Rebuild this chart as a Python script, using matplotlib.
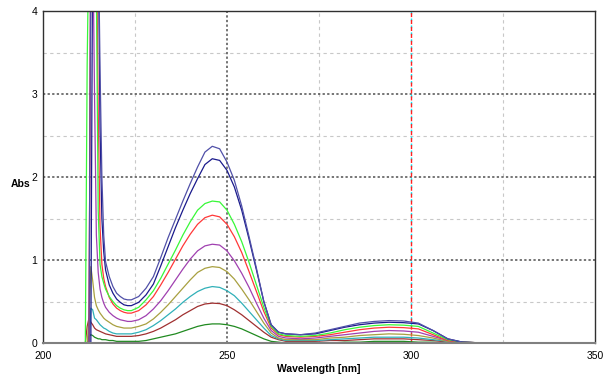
import matplotlib
matplotlib.use("Agg")
import matplotlib.pyplot as plt

plt.rcParams['font.family'] = ['Liberation Sans', 'DejaVu Sans']

# wavelength grid (nm)
wl = [211.5, 212, 212.5, 213, 213.5, 214, 214.5, 215, 215.5, 216, 216.5, 217,
      218, 219, 220, 221, 222, 223, 224,
      226, 228, 230, 232, 234, 236, 238, 240, 242, 244, 246, 248, 250, 252, 254,
      256, 258, 260, 262, 264, 266,
      270, 274, 278, 282, 286, 290, 294, 298, 302, 306, 310, 314, 320, 350]

blue1 = [0, 0, 0, 5, 5, 5, 5, 5, 3.3, 2.0, 1.3, 0.98,
         0.8, 0.68, 0.6, 0.56, 0.53, 0.52, 0.52,
         0.56, 0.66, 0.8, 1.03, 1.27, 1.49, 1.71, 1.92, 2.12, 2.3, 2.37, 2.34, 2.18, 1.96, 1.65,
         1.28, 0.9, 0.5, 0.22, 0.13, 0.11,
         0.10, 0.12, 0.16, 0.20, 0.24, 0.26, 0.27, 0.265, 0.24, 0.15, 0.05, 0.01, 0, 0]
blue2 = [0, 0, 0, 0, 5, 5, 5, 5, 2.6, 1.5, 1.1, 0.88,
         0.7, 0.6, 0.53, 0.49, 0.46, 0.45, 0.45,
         0.49, 0.58, 0.71, 0.93, 1.16, 1.39, 1.6, 1.8, 1.98, 2.15, 2.22, 2.2, 2.08, 1.88, 1.6,
         1.25, 0.88, 0.5, 0.22, 0.13, 0.11,
         0.10, 0.11, 0.15, 0.19, 0.22, 0.24, 0.25, 0.245, 0.23, 0.15, 0.05, 0.01, 0, 0]
lime = [0, 3.35, 5, 5, 5, 5, 4.3, 1.6, 0.95, 0.8, 0.72, 0.65,
        0.56, 0.5, 0.45, 0.42, 0.4, 0.39, 0.39,
        0.43, 0.52, 0.63, 0.78, 0.95, 1.12, 1.3, 1.46, 1.6, 1.68, 1.71, 1.7, 1.6, 1.43, 1.22,
        0.97, 0.7, 0.43, 0.2, 0.11, 0.09,
        0.08, 0.09, 0.12, 0.16, 0.19, 0.21, 0.22, 0.215, 0.2, 0.12, 0.04, 0.01, 0, 0]
red = [0, 0, 0, 5, 5, 5, 5, 2.8, 1.4, 0.95, 0.78, 0.68,
       0.55, 0.47, 0.42, 0.39, 0.37, 0.36, 0.36,
       0.39, 0.46, 0.56, 0.7, 0.85, 1.01, 1.17, 1.31, 1.43, 1.51, 1.54, 1.52, 1.43, 1.28, 1.09,
       0.86, 0.62, 0.38, 0.18, 0.10, 0.08,
       0.07, 0.08, 0.10, 0.13, 0.16, 0.18, 0.19, 0.185, 0.17, 0.10, 0.03, 0.01, 0, 0]
purple = [0, 0, 0, 5, 5, 3.0, 1.3, 0.85, 0.65, 0.55, 0.48, 0.43,
          0.37, 0.33, 0.3, 0.28, 0.27, 0.26, 0.26,
          0.28, 0.33, 0.41, 0.51, 0.63, 0.76, 0.89, 1.01, 1.11, 1.17, 1.19, 1.18, 1.11, 0.99, 0.84,
          0.67, 0.48, 0.3, 0.15, 0.08, 0.06,
          0.05, 0.06, 0.08, 0.10, 0.12, 0.14, 0.15, 0.145, 0.13, 0.08, 0.03, 0.01, 0, 0]
olive = [0, 0, 0.3, 0.92, 0.75, 0.55, 0.45, 0.4, 0.36, 0.33, 0.3, 0.28,
         0.25, 0.22, 0.2, 0.19, 0.18, 0.18, 0.18,
         0.2, 0.23, 0.29, 0.37, 0.46, 0.56, 0.66, 0.76, 0.85, 0.9, 0.92, 0.91, 0.86, 0.77, 0.65,
         0.52, 0.38, 0.24, 0.12, 0.06, 0.04,
         0.04, 0.04, 0.06, 0.07, 0.09, 0.10, 0.11, 0.105, 0.09, 0.06, 0.02, 0.01, 0, 0]
teal = [0, 0, 0, 0.42, 0.4, 0.3, 0.28, 0.25, 0.22, 0.2, 0.18, 0.17,
        0.14, 0.12, 0.11, 0.11, 0.11, 0.11, 0.11,
        0.13, 0.16, 0.21, 0.27, 0.34, 0.41, 0.49, 0.56, 0.62, 0.66, 0.68, 0.67, 0.63, 0.57, 0.48,
        0.38, 0.28, 0.18, 0.09, 0.05, 0.03,
        0.03, 0.03, 0.04, 0.05, 0.06, 0.07, 0.07, 0.07, 0.06, 0.04, 0.02, 0, 0, 0]
darkred = [0, 0.2, 0.3, 0.25, 0.22, 0.18, 0.16, 0.15, 0.14, 0.13, 0.12, 0.11,
           0.1, 0.09, 0.08, 0.08, 0.08, 0.08, 0.08,
           0.09, 0.11, 0.14, 0.18, 0.23, 0.28, 0.34, 0.39, 0.44, 0.47, 0.48, 0.475, 0.45, 0.4, 0.34,
           0.27, 0.2, 0.13, 0.07, 0.04, 0.02,
           0.02, 0.02, 0.03, 0.03, 0.04, 0.05, 0.05, 0.05, 0.04, 0.03, 0.01, 0, 0, 0]
green = [0, 0, 0.08, 0.1, 0.09, 0.07, 0.06, 0.05, 0.05, 0.04, 0.04, 0.04,
         0.03, 0.03, 0.02, 0.02, 0.02, 0.02, 0.02,
         0.02, 0.03, 0.05, 0.07, 0.09, 0.11, 0.14, 0.17, 0.2, 0.22, 0.23, 0.23, 0.22, 0.2, 0.17,
         0.13, 0.09, 0.05, 0.02, 0.01, 0,
         0, 0, 0, 0.01, 0.01, 0.02, 0.02, 0.02, 0.01, 0.01, 0, 0, 0, 0]

series = [green, darkred, teal, olive, purple, red, lime, blue2, blue1]
colors = ['#208a20', '#a03030', '#30b0b8', '#a8a040', '#a040b0',
          '#ff3838', '#38f838', '#1a1a8c', '#5050a8']

fig = plt.figure(figsize=(6.05, 3.76), dpi=100)
ax = fig.add_axes([43 / 605, 1 - 343 / 376, 552 / 605, 332 / 376])

# grid: minor light dashed, major dark dotted
for x in [225, 275, 325]:
    ax.axvline(x, color='#c8c8c8', ls=(0, (3, 3)), lw=0.8, zorder=0)
for y in [0.5, 1.5, 2.5, 3.5]:
    ax.axhline(y, color='#c8c8c8', ls=(0, (3, 3)), lw=0.8, zorder=0)
for x in [250]:
    ax.axvline(x, color='#505050', ls=(0, (1.5, 1.5)), lw=1.1, zorder=0)
for y in [1, 2, 3]:
    ax.axhline(y, color='#505050', ls=(0, (1.5, 1.5)), lw=1.1, zorder=0)
# marker line at 300 nm: red dashes with cyan gaps
ax.axvline(300, color='#ff2020', ls=(0, (3, 2)), lw=1.0, zorder=0.6)
ax.axvline(300, color='#00f0ff', ls=(3, (2, 3)), lw=1.0, zorder=0.5)

for s, c in zip(series, colors):
    ax.plot(wl, s, color=c, lw=0.9)

ax.set_xlim(200, 350)
ax.set_ylim(0, 4)
ax.set_xticks([200, 250, 300, 350])
ax.set_yticks([0, 1, 2, 3, 4])
ax.tick_params(length=0, labelsize=7.5, pad=4)
ax.tick_params(axis='x', pad=6)
for side in ['top', 'right', 'left']:
    ax.spines[side].set_color('#303030')
    ax.spines[side].set_linewidth(1.0)
ax.spines['bottom'].set_color('#808080')
ax.spines['bottom'].set_linewidth(1.5)

ax.set_xlabel('Wavelength [nm]', fontsize=7.5, fontweight='bold', labelpad=2)
fig.text(21 / 605, 1 - 184 / 376, 'Abs', fontsize=7.5, fontweight='bold',
         ha='center', va='center')

fig.savefig('out.png', dpi=100)
